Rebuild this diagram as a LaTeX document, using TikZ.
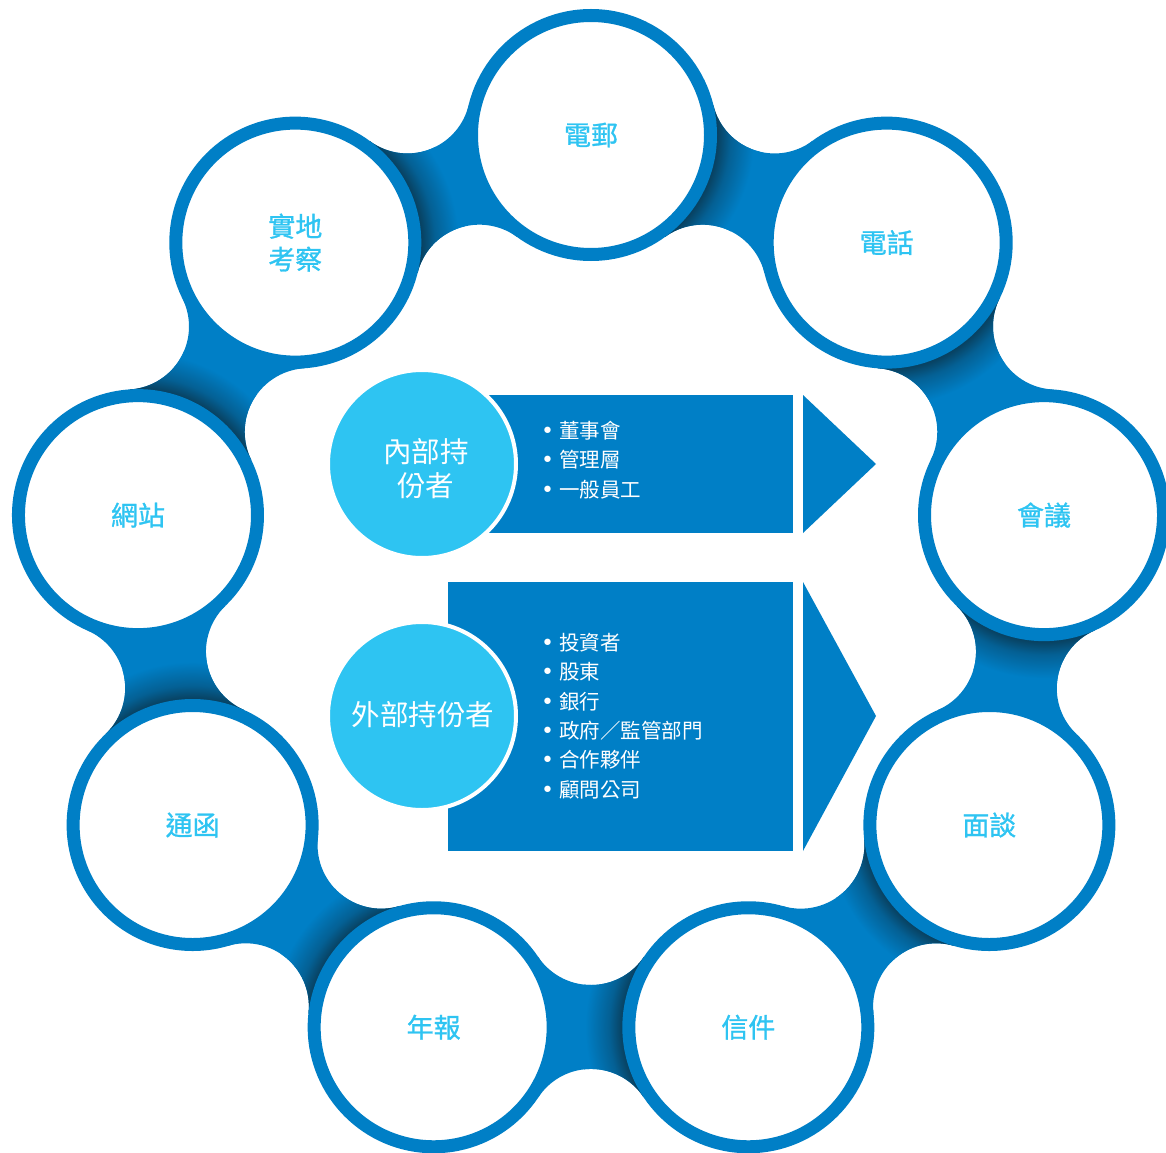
\documentclass[tikz,border=0pt]{standalone}
\usepackage{fontspec}
\newfontfamily\cjk{Noto Sans CJK TC}
\newfontfamily\cjkmed[FakeBold=1]{Noto Sans CJK TC}
\newfontfamily\bulletfont{DejaVu Sans}
\definecolor{ringblue}{RGB}{0,127,198}
\definecolor{ringdark}{RGB}{8,66,98}
\definecolor{ringmid}{RGB}{4,96,148}
\definecolor{skyblue}{RGB}{46,196,242}
\pgfdeclareradialshading{bridgeshadow}{\pgfpoint{0bp}{0bp}}{color(0bp)=(ringdark); color(18.6bp)=(ringdark); color(20.5bp)=(ringmid); color(24bp)=(ringblue); color(50bp)=(ringblue)}
\newcommand{\bul}{{\bulletfont\fontsize{22}{29.4}\selectfont •}\hspace{5pt}}
\begin{document}
\begin{tikzpicture}[x=1pt,y=1pt,
  ringcirc/.style={circle, draw=ringblue, line width=13pt, fill=white, minimum size=239pt, inner sep=0pt, text=skyblue, font=\cjkmed\fontsize{27}{33}\selectfont, align=center},
  holder/.style={circle, draw=white, line width=4pt, fill=skyblue, minimum size=188pt, inner sep=0pt},
  holdertext/.style={text=white, font=\cjk\fontsize{28.5}{34}\selectfont, align=center, inner sep=0pt},
  panel/.style={fill=ringblue, inner sep=0pt, anchor=south west},
  items/.style={text=white, font=\cjk\fontsize{20.5}{29.4}\selectfont, align=left, anchor=west, inner sep=0pt}]
\useasboundingbox (-591,-557) rectangle (575,595);
% bridges between neighbouring circles
\foreach \k in {0,...,8}{
  \pgfmathsetmacro\a{90-40*\k}
  \pgfmathsetmacro\b{\a-40}
  \pgfmathsetmacro\m{\a-20}
  \pgfmathsetmacro\oa{\m+123.65}
  \pgfmathsetmacro\ob{\m+236.35}
  \pgfmathsetmacro\ia{\m-56.04}
  \pgfmathsetmacro\ib{\m+56.04}
  \begin{scope}
    \clip ([shift={(\m:537)}]\oa:63.07) arc[start angle=\oa, end angle=\ob, radius=63.07]
      -- (\b:460) -- ([shift={(\m:326.3)}]\ia:63.7) arc[start angle=\ia, end angle=\ib, radius=63.7]
      -- (\a:460) -- cycle;
    \fill[ringblue] (\a:460) circle (240);
    \shade[shading=bridgeshadow] (\a:460) circle (170);
  \end{scope}
}
% ring circles
\foreach \k/\lab in {0/電郵,1/電話,2/會議,3/面談,4/信件,5/年報,6/通函,7/網站,8/{實地\\考察}}{
  \node[ringcirc] (c\k) at ({90-40*\k}:460) {\lab};
}
% internal stakeholders
\node[panel, minimum width=313pt, minimum height=138pt] (inpanel) at (-111,62) {};
\coordinate (inA) at (212,200);
\coordinate (inTip) at (285,131);
\coordinate (inB) at (212,62);
\fill[ringblue] (inA) -- (inTip) -- (inB) -- cycle;
\node[holder] (inner) at (-169,131) {};
\node[holdertext] (innerlbl) at ([shift={(4,-5)}]inner.center) {內部持\\份者};
\node[items] (inlist) at (-50,135) {\bul 董事會\\\bul 管理層\\\bul 一般員工};
% external stakeholders
\node[panel, minimum width=345pt, minimum height=269pt] (expanel) at (-143,-256) {};
\coordinate (exA) at (212,13);
\coordinate (exTip) at (285,-121);
\coordinate (exB) at (212,-256);
\fill[ringblue] (exA) -- (exTip) -- (exB) -- cycle;
\node[holder] (outer) at (-169,-121) {};
\node[holdertext] (outerlbl) at ([shift={(1,1)}]outer.center) {外部持份者};
\node[items] (exlist) at (-50,-121) {\bul 投資者\\\bul 股東\\\bul 銀行\\\bul 政府／監管部門\\\bul 合作夥伴\\\bul 顧問公司};
\end{tikzpicture}
\end{document}
